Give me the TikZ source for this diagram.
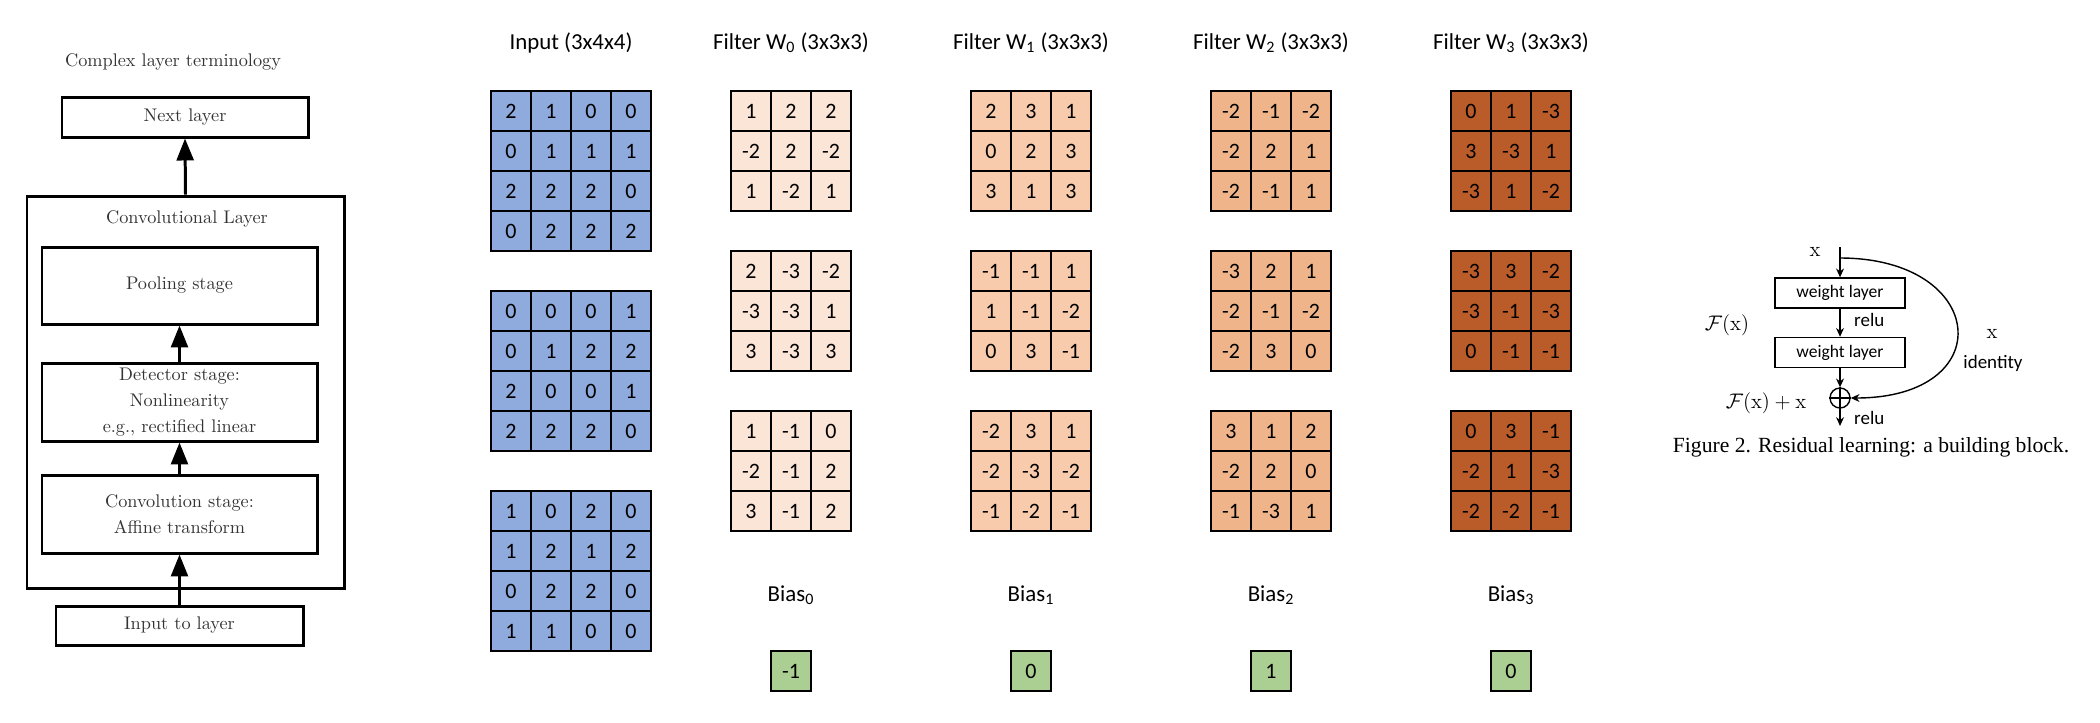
\documentclass[tikz,border=0pt]{standalone}
\usepackage{fontspec}
\newfontfamily\calfont{Carlito}
\newfontfamily\timesfont{Liberation Serif}
\usetikzlibrary{arrows.meta}
\definecolor{inblue}{HTML}{8FAADC}
\definecolor{wzero}{HTML}{FBE5D6}
\definecolor{wone}{HTML}{F8CBAD}
\definecolor{wtwo}{HTML}{F0B48A}
\definecolor{wthree}{HTML}{BA5C2A}
\definecolor{biasgreen}{HTML}{ABCF92}
\tikzset{
  term/.style={text=black!80, font=\fontsize{10.4}{15}\selectfont},
  stage/.style={draw, line width=1.7pt, inner sep=0pt, align=center, text=black!80, font=\fontsize{10.4}{15}\selectfont},
  up/.style={line width=1.7pt, -{Triangle[width=9.6pt,length=12.5pt]}},
  head/.style={font=\calfont\fontsize{13}{15.6}\selectfont},
  cell/.style={draw, line width=1.3pt, minimum size=8mm, inner sep=0pt, font=\calfont\fontsize{12.5}{15}\selectfont},
  wl/.style={draw, line width=0.8pt, minimum width=26mm, minimum height=6mm, inner sep=0pt, font=\calfont\fontsize{10}{12}\selectfont},
  flow/.style={line width=0.8pt, -{Stealth[length=5pt,width=4.5pt]}},
  note/.style={font=\calfont\fontsize{10.8}{13}\selectfont},
  sym/.style={font=\fontsize{12}{14}\selectfont}
}
\begin{document}
\begin{tikzpicture}[x=0.2mm,y=-0.2mm]
  \useasboundingbox (0,0) rectangle (2100,722);
  % layer terminology
  \node[term] (title) at (173,62) {Complex layer terminology};
  \node[stage, minimum width=49.2mm, minimum height=8mm] (next) at (185,117) {Next layer};
  \node[stage, minimum width=63.4mm, minimum height=78.4mm] (layer) at (185.5,392) {};
  \node[term] (layertitle) at (187,219) {Convolutional Layer};
  \node[stage, minimum width=55mm, minimum height=15.4mm] (pool) at (179.5,285.5) {Pooling stage};
  \node[stage, minimum width=55mm, minimum height=15.6mm] (detect) at (179.5,402) {Detector stage:\\Nonlinearity\\e.g., rectified linear};
  \node[stage, minimum width=55mm, minimum height=15.6mm] (affine) at (179.5,514) {Convolution stage:\\Affine transform};
  \node[stage, minimum width=49.4mm, minimum height=7.8mm] (input) at (179.5,625.5) {Input to layer};
  \begin{scope}[up]
    \draw (input) to (affine);
    \draw (affine) to (detect);
    \draw (detect) to (pool);
    \draw (layer.north) to (next.south);
  \end{scope}

  % input (3x4x4)
  \node[head] (intitle) at (571,43) {Input (3x4x4)};
  \foreach \ytop/\vals [count=\m] in {91/{2,1,0,0,0,1,1,1,2,2,2,0,0,2,2,2},
      291/{0,0,0,1,0,1,2,2,2,0,0,1,2,2,2,0},
      491/{1,0,2,0,1,2,1,2,0,2,2,0,1,1,0,0}}
    \foreach \v [count=\n from 0] in \vals {
      \pgfmathtruncatemacro\r{div(\n,4)}
      \pgfmathtruncatemacro\c{mod(\n,4)}
      \node[cell, fill=inblue] (in\m-\r-\c) at ({511+40*\c},{\ytop+20+40*\r}) {\v};
    }

  % filters and biases
  \foreach \k/\cx/\shade/\bias/\vals in {
      0/791/wzero/-1/{1,2,2,-2,2,-2,1,-2,1, 2,-3,-2,-3,-3,1,3,-3,3, 1,-1,0,-2,-1,2,3,-1,2},
      1/1031/wone/0/{2,3,1,0,2,3,3,1,3, -1,-1,1,1,-1,-2,0,3,-1, -2,3,1,-2,-3,-2,-1,-2,-1},
      2/1271/wtwo/1/{-2,-1,-2,-2,2,1,-2,-1,1, -3,2,1,-2,-1,-2,-2,3,0, 3,1,2,-2,2,0,-1,-3,1},
      3/1511/wthree/0/{0,1,-3,3,-3,1,-3,1,-2, -3,3,-2,-3,-1,-3,0,-1,-1, 0,3,-1,-2,1,-3,-2,-2,-1}} {
    \node[head] (wtitle\k) at (\cx,43) {Filter W\textsubscript{\k} (3x3x3)};
    \foreach \v [count=\n from 0] in \vals {
      \pgfmathtruncatemacro\s{div(\n,9)}
      \pgfmathtruncatemacro\r{div(mod(\n,9),3)}
      \pgfmathtruncatemacro\c{mod(\n,3)}
      \node[cell, fill=\shade] (w\k-\s-\r-\c) at ({\cx-40+40*\c},{111+160*\s+40*\r}) {\v};
    }
    \node[head] (btitle\k) at (\cx,595) {Bias\textsubscript{\k}};
    \node[cell, fill=biasgreen] (b\k) at (\cx,671) {\bias};
  }

  % residual block
  \coordinate (xin) at (1840,247);
  \coordinate (split) at (1840,258);
  \coordinate (out) at (1840,426);
  \node[sym] (xtop) at (1815,252) {$\mathrm{x}$};
  \node[wl] (wl1) at (1840,293) {weight layer};
  \node[wl] (wl2) at (1840,352.5) {weight layer};
  \node[draw, circle, line width=0.8pt, minimum size=4mm, inner sep=0pt] (plus) at (1840,398) {};
  \draw[line width=0.8pt] (plus.north) -- (plus.south) (plus.west) -- (plus.east);
  \draw[flow] (xin) -- (wl1);
  \draw[flow] (wl1) -- (wl2);
  \draw[flow] (wl2) -- (plus);
  \draw[flow] (plus) -- (out);
  \draw[flow] (split) .. controls +(148,0) and +(150,0) .. (plus.east);
  \node[note, anchor=west] (relu1) at (1848,320) {relu};
  \node[note, anchor=west] (relu2) at (1848,418) {relu};
  \node[sym] (fx) at (1727,325) {$\mathcal{F}(\mathrm{x})$};
  \node[sym] (fxx) at (1766,403) {$\mathcal{F}(\mathrm{x}) + \mathrm{x}$};
  \node[sym] (xid) at (1992,334) {$\mathrm{x}$};
  \node[note] (ident) at (1993,363) {identity};
  \node[font=\timesfont\fontsize{12.3}{14}\selectfont] (caption) at (1871,447) {Figure 2. Residual learning: a building block.};
\end{tikzpicture}
\end{document}
